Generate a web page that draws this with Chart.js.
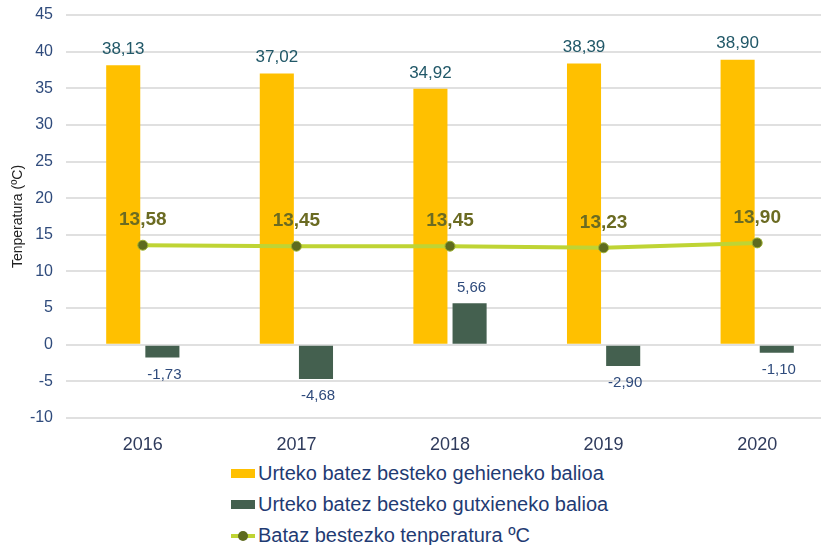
<!DOCTYPE html>
<html>
<head>
<meta charset="utf-8">
<script src="https://cdn.jsdelivr.net/npm/chart.js@4"></script>
<style>
    html, body { margin: 0; padding: 0; background: #fff; overflow: hidden; }
    #wrap { position: relative; width: 840px; height: 455px; }
    #legend { position: absolute; left: 231px; top: 458px; font-family: "Liberation Sans", Arial, sans-serif; font-size: 20px; color: #1F3B73; }
    .item { height: 31px; line-height: 31px; display: flex; align-items: center; white-space: nowrap; }
    .box { width: 24px; height: 9px; margin-right: 3px; }
    .ln { position: relative; width: 24px; height: 4px; background: #BFD434; margin-right: 3px; }
    .ln span { position: absolute; left: 7px; top: -3px; width: 10px; height: 10px; border-radius: 50%; background: #5E6B1F; }
</style>
</head>
<body>
<div id="wrap"><canvas id="grafico"></canvas></div>
<div id="legend">
    <div class="item"><div class="box" style="background:#FFC000"></div>Urteko batez besteko gehieneko balioa</div>
    <div class="item"><div class="box" style="background:#44604F"></div>Urteko batez besteko gutxieneko balioa</div>
    <div class="item"><div class="ln"><span></span></div>Bataz bestezko tenperatura ºC</div>
</div>
<script>
// Datos
const urteak = ['2016', '2017', '2018', '2019', '2020'];
const gehienekoa = [38.13, 37.02, 34.92, 38.39, 38.90];
const gutxienekoa = [-1.73, -4.68, 5.66, -2.90, -1.10];
const batezbestekoa = [13.58, 13.45, 13.45, 13.23, 13.90];

const letra = '"Liberation Sans", Arial, sans-serif';

// Etiquetas de valores (sin plugin externo)
const etiquetas = {
    id: 'etiquetas',
    afterDatasetsDraw(chart) {
        const ctx = chart.ctx;
        ctx.save();
        ctx.textAlign = 'center';
        ctx.textBaseline = 'middle';
        chart.data.datasets.forEach((ds, i) => {
            const meta = chart.getDatasetMeta(i);
            meta.data.forEach((el, j) => {
                const v = ds.data[j];
                const txt = v.toFixed(2).replace('.', ',');
                if (ds.type === 'line') {
                    ctx.font = 'bold 19px ' + letra;
                    ctx.fillStyle = '#6B6B22';
                    ctx.fillText(txt, el.x, el.y - 25);
                } else if (i === 0) {
                    ctx.font = '17px ' + letra;
                    ctx.fillStyle = '#215868';
                    ctx.fillText(txt, el.x, el.y - 16);
                } else {
                    ctx.font = '15px ' + letra;
                    ctx.fillStyle = '#2F4B7C';
                    ctx.fillText(txt, el.x + 2, v < 0 ? el.y + 17 : el.y - 15);
                }
            });
        });
        ctx.restore();
    }
};

const ctx = document.getElementById('grafico').getContext('2d');
new Chart(ctx, {
    data: {
        labels: urteak,
        datasets: [
            {
                type: 'bar',
                label: 'Urteko batez besteko gehieneko balioa',
                data: gehienekoa,
                backgroundColor: '#FFC000',
                categoryPercentage: 0.51,
                barPercentage: 0.87,
                order: 1
            },
            {
                type: 'bar',
                label: 'Urteko batez besteko gutxieneko balioa',
                data: gutxienekoa,
                backgroundColor: '#44604F',
                categoryPercentage: 0.51,
                barPercentage: 0.87,
                order: 1
            },
            {
                type: 'line',
                label: 'Bataz bestezko tenperatura ºC',
                data: batezbestekoa,
                borderColor: '#BFD434',
                borderWidth: 4,
                pointRadius: 5,
                pointBackgroundColor: '#5E6B1F',
                pointBorderColor: '#9DB030',
                pointBorderWidth: 1,
                order: 0
            }
        ]
    },
    plugins: [etiquetas],
    options: {
        responsive: true,
        maintainAspectRatio: false,
        animation: false,
        layout: {
            padding: { top: 15, right: 2, bottom: 0, left: 0 }
        },
        plugins: {
            legend: { display: false },
            tooltip: { enabled: false }
        },
        scales: {
            x: {
                grid: { display: false },
                border: { display: false },
                ticks: {
                    color: '#2F3B5C',
                    font: { family: letra, size: 18 },
                    padding: 8
                },
                afterFit: function(scale) {
                    scale.height = 37;
                }
            },
            y: {
                min: -10,
                max: 45,
                border: { display: false },
                grid: {
                    color: '#E0E0E0',
                    lineWidth: 2,
                    drawTicks: false
                },
                ticks: {
                    stepSize: 5,
                    color: '#2F4B7C',
                    font: { family: letra, size: 16 },
                    padding: 13
                },
                title: {
                    display: true,
                    text: 'Tenperatura (ºC)',
                    color: '#222222',
                    font: { family: letra, size: 14 },
                    padding: { top: 10, bottom: 0 }
                },
                afterFit: function(scale) {
                    scale.width = 66;
                    scale.paddingTop = 0;
                    scale.paddingBottom = 0;
                }
            }
        }
    }
});
</script>
</body>
</html>
